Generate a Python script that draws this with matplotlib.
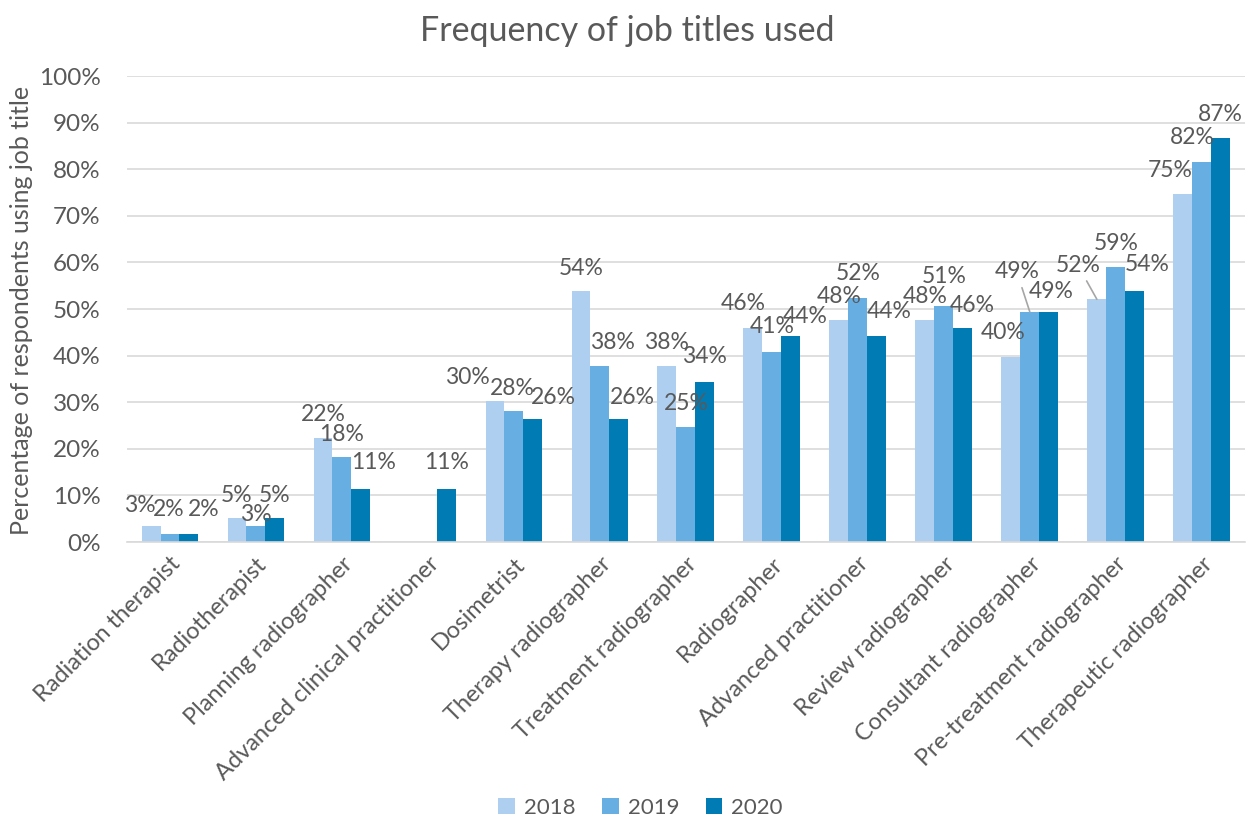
import numpy as np
import matplotlib
matplotlib.use("Agg")
import matplotlib.pyplot as plt

plt.rcParams['font.family'] = ['Lato', 'DejaVu Sans']
plt.rcParams['text.color'] = '#595959'
plt.rcParams['axes.labelcolor'] = '#595959'
plt.rcParams['xtick.color'] = '#595959'
plt.rcParams['ytick.color'] = '#595959'

categories = ["Radiation therapist", "Radiotherapist", "Planning radiographer",
              "Advanced clinical practitioner", "Dosimetrist", "Therapy radiographer",
              "Treatment radiographer", "Radiographer", "Advanced practitioner",
              "Review radiographer", "Consultant radiographer",
              "Pre-treatment radiographer", "Therapeutic radiographer"]
years = ["2018", "2019", "2020"]
v2018 = [3.4, 5.1, 22.3, np.nan, 30.3, 53.9, 37.8, 45.9, 47.7, 47.7, 39.7, 52.1, 74.7]
v2019 = [1.7, 3.4, 18.2, np.nan, 28.1, 37.8, 24.7, 40.8, 52.3, 50.6, 49.4, 59.1, 81.6]
v2020 = [1.7, 5.1, 11.4, 11.4, 26.4, 26.4, 34.4, 44.2, 44.2, 45.9, 49.4, 53.9, 86.8]
yticks = [0, 10, 20, 30, 40, 50, 60, 70, 80, 90, 100]

colors = ['#AECFF0', '#67AEE3', '#007BB4']

# label placement (pixels from bar top), mimicking the spreadsheet layout
offsets = [
    [(-11, 21), (-1, 25), (15, 25)],
    [(0, 23), (0, 12), (0, 23)],
    [(0, 24), (0, 23), (13, 26)],
    [None, None, (0, 26)],
    [(-28, 23), (-2, 23), (21, 22)],
    [(0, 22), (13, 23), (14, 22)],
    [(0, 23), (0, 23), (0, 25)],
    [(-10, 25), (0, 25), (14, 20)],
    [(0, 23), (0, 25), (12, 25)],
    [(0, 23), (0, 30), (10, 23)],
    [(-8, 25), (-13, 40), (2, 20)],
    [(-19, 34), (0, 23), (13, 26)],
    [(-13, 23), (-9, 24), (0, 23)],
]
leaders = [(10, 1), (11, 0)]

fig = plt.figure(figsize=(12.51, 8.21), dpi=100)
ax = fig.add_axes([0.1015, 0.3398, 0.8935, 0.5676])

x = np.arange(len(categories))
w = 0.22
series = [v2018, v2019, v2020]
for j, vals in enumerate(series):
    ax.bar(x + (j - 1) * w, vals, width=w, color=colors[j], label=years[j], zorder=2)

for i in range(len(categories)):
    for j, vals in enumerate(series):
        v = vals[i]
        if np.isnan(v):
            continue
        dx, dy = offsets[i][j]
        xy = (x[i] + (j - 1) * w, v)
        if (i, j) in leaders:
            ax.annotate(f"{v:.0f}%", xy=xy, xytext=(dx, dy), textcoords='offset pixels',
                        ha='center', va='center', fontsize=16.5,
                        arrowprops=dict(arrowstyle='-', color='#A6A6A6', lw=1.2,
                                        shrinkA=2, shrinkB=0))
        else:
            ax.annotate(f"{v:.0f}%", xy=xy, xytext=(dx, dy), textcoords='offset pixels',
                        ha='center', va='center', fontsize=16.5)

ax.set_xlim(-0.5, len(categories) - 0.5)
ax.set_ylim(0, 100)
ax.set_yticks(yticks)
ax.set_yticklabels([f"{t}%" for t in yticks], fontsize=17.5)
ax.set_xticks(x)
ax.set_xticklabels(categories, rotation=45, ha='right', rotation_mode='anchor', fontsize=17)
ax.tick_params(axis='both', length=0)
ax.tick_params(axis='y', pad=19)
ax.tick_params(axis='x', pad=8)
ax.grid(axis='y', color='#D9D9D9', lw=1.2, zorder=0)
ax.set_axisbelow(True)
for s in ['top', 'right', 'left']:
    ax.spines[s].set_visible(False)
ax.spines['bottom'].set_color('#D9D9D9')
ax.spines['bottom'].set_linewidth(1.2)

ax.set_ylabel("Percentage of respondents using job title", fontsize=18)
ax.yaxis.set_label_coords(-0.084, 0.496)
fig.text(0.501, 0.962, "Frequency of job titles used", ha='center', va='center', fontsize=24.5)

fig.legend(loc='center', bbox_to_anchor=(0.512, 0.016), ncol=3, frameon=False,
           fontsize=16, handlelength=0.75, handleheight=0.75, handletextpad=0.4,
           columnspacing=1.2)

fig.savefig("out.png", dpi=100)
